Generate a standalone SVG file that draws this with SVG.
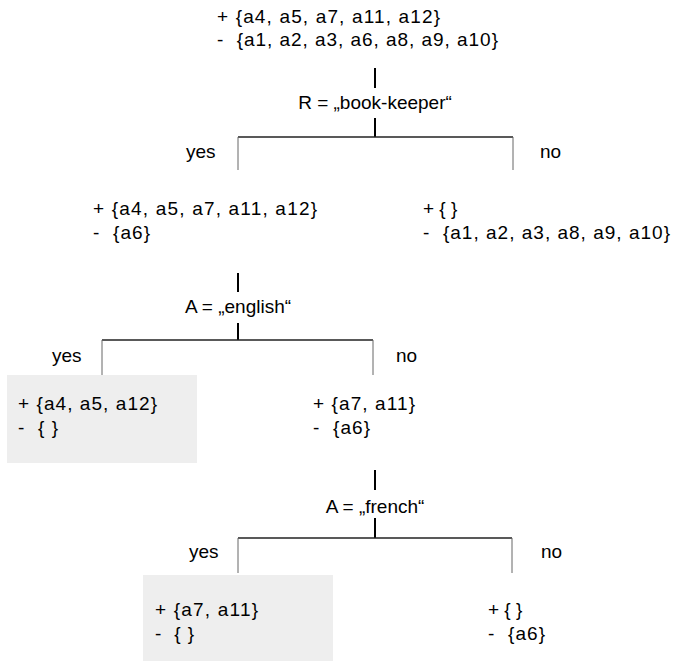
<svg xmlns="http://www.w3.org/2000/svg" width="673" height="665" viewBox="0 0 673 665">
<style>
text{font-family:"Liberation Sans",Arial,sans-serif;font-size:19px;fill:#000;white-space:pre}
.mid{text-anchor:middle}
.stem{stroke:#000;stroke-width:2;fill:none}
.bar{stroke:#222;stroke-width:1.5;fill:none}
.drop{stroke:#666;stroke-width:1;fill:none}
.leaf{fill:#eeeeee}
</style>
<rect width="673" height="665" fill="#fff"/>
<g id="root">
<text x="217" y="23" textLength="223" lengthAdjust="spacing">+ {a4, a5, a7, a11, a12}</text>
<text x="217" y="46" textLength="281" lengthAdjust="spacing">-  {a1, a2, a3, a6, a8, a9, a10}</text>
</g>
<g id="test1"><text class="mid" x="375" y="109">R = „book-keeper“</text></g>
<g id="n_yes1">
<text x="93" y="215" textLength="224" lengthAdjust="spacing">+ {a4, a5, a7, a11, a12}</text>
<text x="93" y="239" textLength="57" lengthAdjust="spacing">-  {a6}</text>
</g>
<g id="n_no1">
<text x="423" y="215">+ { }</text>
<text x="423" y="239" textLength="247" lengthAdjust="spacing">-  {a1, a2, a3, a8, a9, a10}</text>
</g>
<g id="test2"><text class="mid" x="238" y="313">A = „english“</text></g>
<g id="leaf1">
<rect class="leaf" x="7" y="375" width="190" height="88"/>
<text x="18" y="410" textLength="139" lengthAdjust="spacing">+ {a4, a5, a12}</text>
<text x="18" y="434" textLength="40" lengthAdjust="spacing">-  { }</text>
</g>
<g id="n_no2">
<text x="313" y="410" textLength="102" lengthAdjust="spacing">+ {a7, a11}</text>
<text x="313" y="434" textLength="57" lengthAdjust="spacing">-  {a6}</text>
</g>
<g id="test3"><text class="mid" x="375" y="513">A = „french“</text></g>
<g id="leaf2">
<rect class="leaf" x="143" y="575" width="190" height="86"/>
<text x="155" y="616" textLength="103" lengthAdjust="spacing">+ {a7, a11}</text>
<text x="155" y="640" textLength="39" lengthAdjust="spacing">-  { }</text>
</g>
<g id="n_no3">
<text x="488" y="616">+ { }</text>
<text x="488" y="640" textLength="57" lengthAdjust="spacing">-  {a6}</text>
</g>
<g id="connectors">
<line class="stem" x1="375" y1="68" x2="375" y2="88"/>
<line class="stem" x1="375" y1="118" x2="375" y2="137"/>
<line class="bar" x1="238" y1="137" x2="513" y2="137"/>
<line class="drop" x1="238" y1="137" x2="238" y2="170"/>
<line class="drop" x1="513" y1="137" x2="513" y2="170"/>
<text x="186" y="158">yes</text>
<text x="540" y="158">no</text>
<line class="stem" x1="238" y1="273" x2="238" y2="292"/>
<line class="stem" x1="238" y1="323" x2="238" y2="340"/>
<line class="bar" x1="102" y1="340" x2="373" y2="340"/>
<line class="drop" x1="102" y1="340" x2="102" y2="375"/>
<line class="drop" x1="373" y1="340" x2="373" y2="375"/>
<text x="52" y="362">yes</text>
<text x="396" y="362">no</text>
<line class="stem" x1="375" y1="470" x2="375" y2="490"/>
<line class="stem" x1="375" y1="518" x2="375" y2="538"/>
<line class="bar" x1="238" y1="538" x2="512" y2="538"/>
<line class="drop" x1="238" y1="538" x2="238" y2="573"/>
<line class="drop" x1="512" y1="538" x2="512" y2="573"/>
<text x="189" y="558">yes</text>
<text x="541" y="558">no</text>
</g>
</svg>
